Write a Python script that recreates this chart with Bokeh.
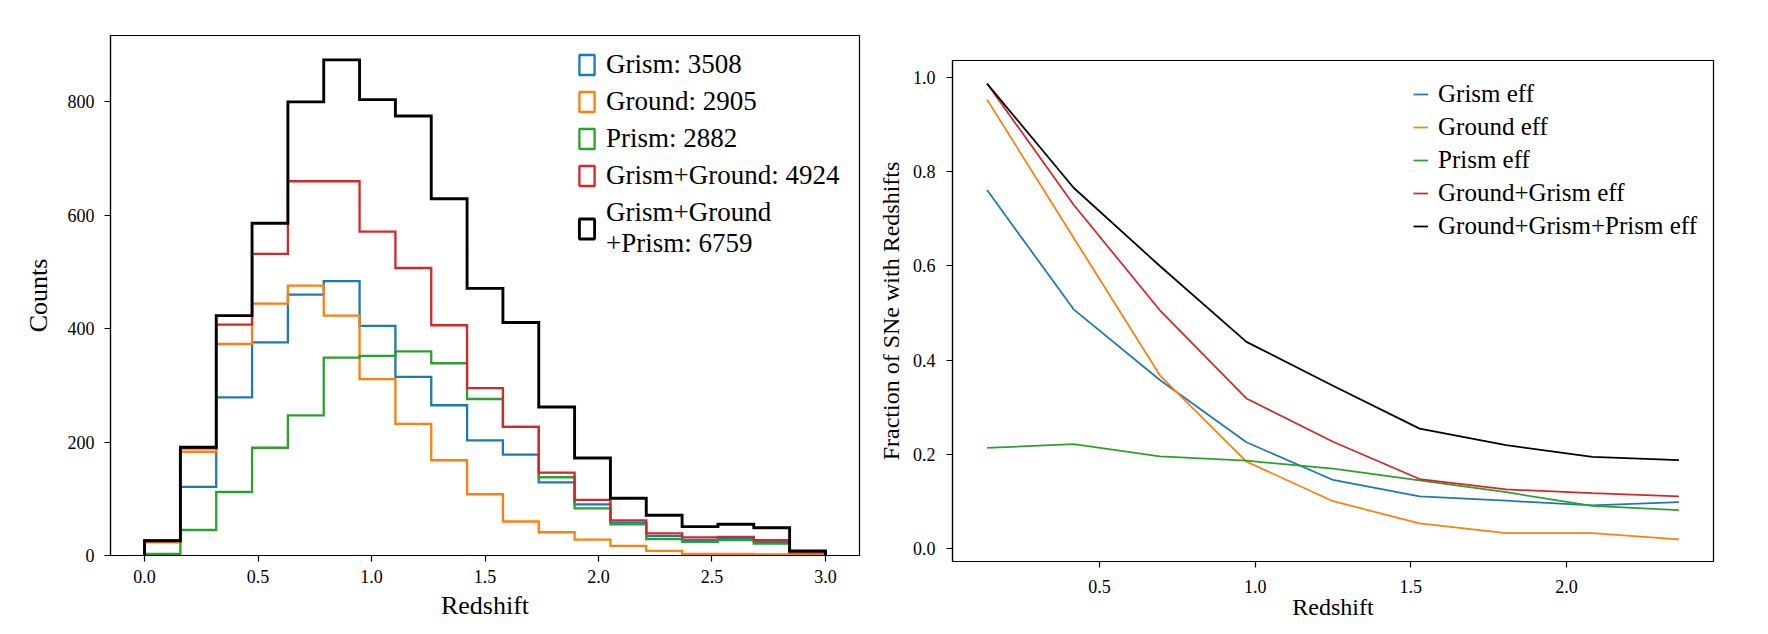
import numpy as np
from bokeh.plotting import figure
from bokeh.models import Legend, LegendItem, FixedTicker, Range1d
from bokeh.layouts import row, column
from bokeh.embed import file_html
from bokeh.resources import INLINE

# ---------------- data: left panel (histograms) ----------------
redshift_edges = np.linspace(0.0, 3.0, 20)          # 19 bins
grism_counts = [26, 121, 279, 376, 460, 484, 405, 315, 265, 203, 178, 129, 90, 58, 34, 27, 29, 24, 5]
ground_counts = [23, 183, 373, 444, 476, 423, 311, 232, 168, 108, 60, 41, 28, 17, 8, 3, 3, 2, 2]
prism_counts = [3, 45, 112, 190, 247, 349, 352, 360, 339, 276, 227, 138, 83, 55, 29, 24, 27, 21, 5]
grism_ground_counts = [26, 189, 407, 532, 660, 660, 571, 507, 406, 295, 227, 146, 98, 62, 39, 32, 33, 27, 7]
all_counts = [26, 191, 423, 586, 800, 874, 804, 775, 629, 471, 411, 262, 172, 101, 71, 51, 55, 49, 8]
hist_labels = ["Grism: 3508", "Ground: 2905", "Prism: 2882", "Grism+Ground: 4924",
               "Grism+Ground\n+Prism: 6759"]
left_xticks = [0.0, 0.5, 1.0, 1.5, 2.0, 2.5, 3.0]
left_xtick_labels = ["0.0", "0.5", "1.0", "1.5", "2.0", "2.5", "3.0"]
left_yticks = [0, 200, 400, 600, 800]
left_ytick_labels = ["0", "200", "400", "600", "800"]

# ---------------- data: right panel (efficiencies) ----------------
eff_z = [0.139, 0.417, 0.694, 0.972, 1.250, 1.528, 1.806, 2.083, 2.361]
grism_eff = [0.761, 0.508, 0.358, 0.226, 0.146, 0.111, 0.102, 0.092, 0.099]
ground_eff = [0.953, 0.660, 0.368, 0.185, 0.101, 0.054, 0.033, 0.033, 0.020]
prism_eff = [0.214, 0.222, 0.196, 0.187, 0.170, 0.145, 0.120, 0.091, 0.082]
ground_grism_eff = [0.987, 0.730, 0.506, 0.319, 0.227, 0.148, 0.126, 0.118, 0.111]
all_eff = [0.987, 0.766, 0.600, 0.439, 0.346, 0.255, 0.220, 0.195, 0.188]
eff_labels = ["Grism eff", "Ground eff", "Prism eff", "Ground+Grism eff", "Ground+Grism+Prism eff"]
right_xticks = [0.5, 1.0, 1.5, 2.0]
right_xtick_labels = ["0.5", "1.0", "1.5", "2.0"]
right_yticks = [0.0, 0.2, 0.4, 0.6, 0.8, 1.0]
right_ytick_labels = ["0.0", "0.2", "0.4", "0.6", "0.8", "1.0"]

COLORS = ["#1f77b4", "#ff7f0e", "#2ca02c", "#d62728", "#000000"]
FONT = "Liberation Serif"


def step_xy(edges, counts):
    xs = [edges[0]]
    ys = [0]
    for i, c in enumerate(counts):
        xs += [edges[i], edges[i + 1]]
        ys += [c, c]
    xs.append(edges[-1])
    ys.append(0)
    return xs, ys


def style_axes(p, tick_size, label_size):
    for ax in (p.xaxis, p.yaxis):
        ax.major_label_text_font = FONT
        ax.major_label_text_font_size = tick_size
        ax.major_label_text_color = "black"
        ax.axis_label_text_font = FONT
        ax.axis_label_text_font_size = label_size
        ax.axis_label_text_font_style = "normal"
        ax.axis_label_text_color = "black"
        ax.minor_tick_line_color = None
        ax.major_tick_in = 0
        ax.major_tick_out = 6
        ax.major_tick_line_width = 1.2
        ax.major_tick_line_color = "black"
        ax.axis_line_width = 1.2
        ax.axis_line_color = "black"
    p.xgrid.visible = False
    p.ygrid.visible = False
    p.outline_line_color = "black"
    p.outline_line_width = 1.2
    p.background_fill_color = "white"
    p.border_fill_color = "white"


# ---------------- left figure ----------------
p1 = figure(width=870, height=634, x_range=Range1d(-0.15, 3.15), y_range=Range1d(0, 917),
            output_backend="svg", toolbar_location=None,
            min_border_left=110, min_border_right=11, min_border_top=35, min_border_bottom=79)
p1.title = None
style_axes(p1, "18px", "26px")
p1.xaxis.axis_label = "Redshift"
p1.yaxis.axis_label = "Counts"
p1.xaxis.ticker = FixedTicker(ticks=left_xticks)
p1.xaxis.major_label_overrides = dict(zip(left_xticks, left_xtick_labels))
p1.yaxis.ticker = FixedTicker(ticks=left_yticks)
p1.yaxis.major_label_overrides = dict(zip(left_yticks, left_ytick_labels))
p1.xaxis.major_label_standoff = 8
p1.yaxis.major_label_standoff = 10
p1.xaxis.axis_label_standoff = 5
p1.yaxis.axis_label_standoff = 12

series = [grism_counts, ground_counts, prism_counts, grism_ground_counts, all_counts]
items = []
for counts, col, lab in zip(series, COLORS, hist_labels):
    xs, ys = step_xy(redshift_edges, counts)
    lw = 2.9 if col == "#000000" else 2.3
    p1.line(xs, ys, line_color=col, line_width=lw, line_join="miter")
    proxy = p1.rect(x=[np.nan], y=[np.nan], width=[1], height=[1],
                    fill_alpha=0, line_color=col, line_width=lw)
    items.append(LegendItem(label=lab, renderers=[proxy]))

leg1 = Legend(items=items, location=(467, 296))
leg1.label_text_font = FONT
leg1.label_text_font_size = "27px"
leg1.label_text_color = "black"
leg1.glyph_width = 19
leg1.glyph_height = 25
leg1.label_height = 31
leg1.label_standoff = 10
leg1.spacing = 6
leg1.padding = 0
leg1.margin = 0
leg1.border_line_alpha = 0
leg1.background_fill_alpha = 0
p1.add_layout(leg1)

# ---------------- right figure ----------------
p2 = figure(width=890, height=634, x_range=Range1d(0.028, 2.472), y_range=Range1d(-0.027, 1.036),
            output_backend="svg", toolbar_location=None,
            min_border_left=82, min_border_right=47, min_border_top=60, min_border_bottom=73)
p2.title = None
style_axes(p2, "18px", "24px")
p2.xaxis.axis_label = "Redshift"
p2.yaxis.axis_label = "Fraction of SNe with Redshifts"
p2.xaxis.ticker = FixedTicker(ticks=right_xticks)
p2.xaxis.major_label_overrides = dict(zip(right_xticks, right_xtick_labels))
p2.yaxis.ticker = FixedTicker(ticks=right_yticks)
p2.yaxis.major_label_overrides = dict(zip(right_yticks, right_ytick_labels))
p2.xaxis.major_label_standoff = 12
p2.yaxis.major_label_standoff = 11
p2.xaxis.axis_label_standoff = -2
p2.yaxis.axis_label_standoff = 6

effs = [grism_eff, ground_eff, prism_eff, ground_grism_eff, all_eff]
items2 = []
for vals, col, lab in zip(effs, COLORS, eff_labels):
    r = p2.line(eff_z, vals, line_color=col, line_width=1.75)
    items2.append(LegendItem(label=lab, renderers=[r]))

leg2 = Legend(items=items2, location=(461, 321))
leg2.label_text_font = FONT
leg2.label_text_font_size = "25px"
leg2.label_text_color = "black"
leg2.glyph_width = 15
leg2.glyph_height = 20
leg2.label_height = 29
leg2.label_standoff = 10
leg2.spacing = 4
leg2.padding = 0
leg2.margin = 0
leg2.border_line_alpha = 0
leg2.background_fill_alpha = 0
p2.add_layout(leg2)

layout = row(column(p1), column(p2))
open("out.html", "w").write(file_html(layout, INLINE))
